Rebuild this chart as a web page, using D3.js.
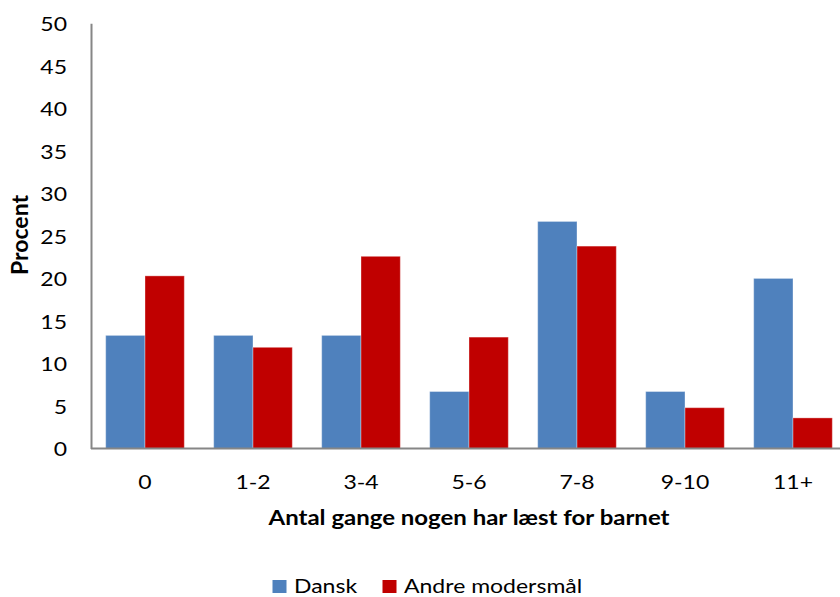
<!DOCTYPE html>
<html>
<head>
<meta charset="utf-8">
<script src="https://cdn.jsdelivr.net/npm/d3@7"></script>
<style>
  html, body { margin: 0; padding: 0; background: #fff; }
  svg { display: block; font-family: Lato, "Open Sans", sans-serif; }
</style>
</head>
<body>
<svg id="chart" width="840" height="597"></svg>
<script>
// Categories: number of times someone has read to the child
const categories = ["0", "1-2", "3-4", "5-6", "7-8", "9-10", "11+"];
const seriesNames = ["Dansk", "Andre modersmål"];
const dansk = [13.3, 13.3, 13.3, 6.7, 26.7, 6.7, 20.0];
const andre = [20.3, 11.9, 22.6, 13.1, 23.8, 4.8, 3.6];
const yTicks = [0, 5, 10, 15, 20, 25, 30, 35, 40, 45, 50];
const colors = ["#4F81BD", "#C00000"];

const FONT = "Lato, 'Open Sans', sans-serif";
const fontSize = 20;   // labels are set a little wide
const stretch = 1.15;

const svg = d3.select("#chart");
const plotLeft = 91, plotRight = 847, plotTop = 23.3, plotBottom = 448.5;

const x = d3.scaleBand().domain(categories).range([plotLeft, plotRight]).paddingInner(0.272).paddingOuter(0.136);
const inner = d3.scaleBand().domain(seriesNames).range([0, x.bandwidth()]);
const y = d3.scaleLinear().domain([0, 50]).range([plotBottom, plotTop]);

const rows = categories.map((c, i) => ({ cat: c, values: [dansk[i], andre[i]] }));

// bars
const groups = svg.append("g").selectAll("g").data(rows).join("g")
  .attr("transform", d => `translate(${x(d.cat)},0)`);
groups.selectAll("rect").data(d => d.values.map((v, k) => ({ v, k })))
  .join("rect")
  .attr("x", d => inner(seriesNames[d.k]))
  .attr("width", inner.bandwidth())
  .attr("y", d => y(d.v))
  .attr("height", d => y(0) - y(d.v))
  .attr("fill", d => colors[d.k])
  .attr("stroke", "rgba(255,255,255,0.35)")
  .attr("stroke-width", 1);

// y axis
const yAxis = svg.append("g").attr("transform", `translate(${plotLeft},0)`)
  .call(d3.axisLeft(y).tickValues(yTicks).tickSize(0).tickPadding(24));
yAxis.select(".domain").attr("stroke", "#868686").attr("stroke-width", 2);
yAxis.selectAll("text")
  .attr("x", 0).attr("dy", "0.36em")
  .attr("transform", `translate(-24,0) scale(${stretch},1)`)
  .attr("font-size", fontSize).attr("fill", "#000").attr("font-family", FONT);

// x axis
const xAxis = svg.append("g").attr("transform", `translate(0,${plotBottom})`)
  .call(d3.axisBottom(x).tickSize(0));
xAxis.select(".domain").attr("d", `M${plotLeft},0H840`).attr("stroke", "#868686").attr("stroke-width", 2);
xAxis.selectAll("text")
  .attr("y", 40.5).attr("dy", 0)
  .attr("transform", `scale(${stretch},1)`)
  .attr("font-size", fontSize).attr("fill", "#000").attr("font-family", FONT);

// axis titles
svg.append("text")
  .attr("transform", "translate(28,235) rotate(-90)")
  .attr("text-anchor", "middle")
  .attr("font-size", 23).attr("font-weight", "bold")
  .text("Procent");
svg.append("text")
  .attr("transform", `translate(${(plotLeft + plotRight) / 2},525) scale(1.2,1)`)
  .attr("text-anchor", "middle")
  .attr("font-size", fontSize).attr("font-weight", "bold")
  .text("Antal gange nogen har læst for barnet");

// legend
const legendX = [272.5, 382.5];
const legend = svg.append("g").selectAll("g").data(seriesNames).join("g")
  .attr("transform", (d, i) => `translate(${legendX[i]},580)`);
legend.append("rect").attr("width", 14).attr("height", 13)
  .attr("fill", (d, i) => colors[i]);
legend.append("text")
  .attr("transform", `translate(21.5,13.3) scale(${stretch},1)`)
  .attr("font-size", fontSize).text(d => d);
</script>
</body>
</html>
